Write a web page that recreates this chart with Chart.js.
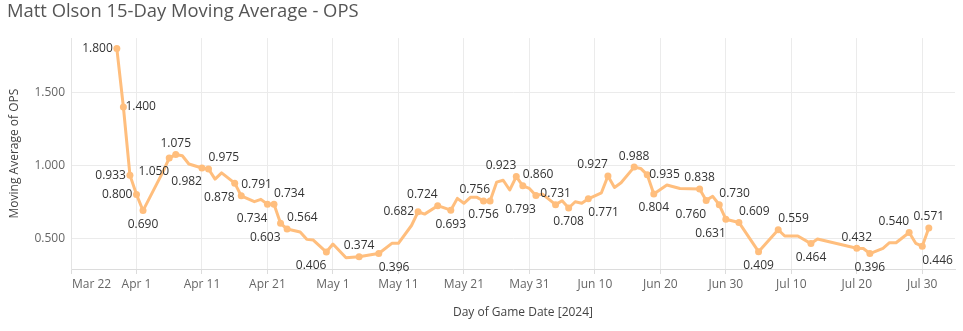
<!DOCTYPE html>
<html>
<head>
<meta charset="utf-8">
<title>Matt Olson 15-Day Moving Average - OPS</title>
<script src="https://cdn.jsdelivr.net/npm/chart.js@4.4.1/dist/chart.umd.min.js"></script>
<style>
  html, body { margin: 0; padding: 0; background: #fff; }
  #wrap { width: 963px; height: 331px; }
</style>
</head>
<body>
<div id="wrap"><canvas id="opsChart" width="963" height="331"></canvas></div>
<script>
// game days, counted from Mar 22 2024 (day 0)
const gameDays = [
  7, 8, 9, 10, 11, 14, 15, 16, 17, 18, 20, 21, 22, 23, 25, 26, 28, 29, 30, 31,
  32, 33, 35, 36, 37, 39, 40, 42, 44, 46, 47, 49, 50, 52, 53, 54, 56, 58, 59, 60,
  61, 62, 63, 64, 65, 66, 67, 68, 69, 70, 71, 72, 74, 75, 76, 77, 78, 79, 81, 82,
  83, 84, 86, 87, 88, 89, 91, 93, 96, 97, 98, 99, 100, 102, 105, 108, 109, 111, 113, 114,
  120, 121, 122, 124, 125, 126, 128, 129, 130, 131
];

// 15-day moving average of OPS
const opsAvg = [
  1.800, 1.400, 0.933, 0.800, 0.690, 0.952, 1.050, 1.075, 1.066, 1.009, 0.982, 0.975, 0.906, 0.949, 0.878, 0.791, 0.751, 0.767, 0.734, 0.734,
  0.603, 0.564, 0.543, 0.493, 0.488, 0.406, 0.461, 0.367, 0.374, 0.389, 0.396, 0.466, 0.466, 0.588, 0.682, 0.666, 0.724, 0.693, 0.774, 0.740,
  0.781, 0.781, 0.756, 0.756, 0.885, 0.898, 0.831, 0.923, 0.860, 0.842, 0.793, 0.803, 0.731, 0.758, 0.708, 0.751, 0.740, 0.771, 0.812, 0.927,
  0.849, 0.881, 0.988, 0.979, 0.935, 0.804, 0.865, 0.842, 0.838, 0.760, 0.788, 0.730, 0.631, 0.609, 0.409, 0.559, 0.516, 0.516, 0.464, 0.495,
  0.432, 0.430, 0.396, 0.432, 0.470, 0.470, 0.540, 0.466, 0.446, 0.571
];

// where each value label sits next to its point ('' = no label)
const labelSide = [
  'l', 'r', 'l', 'l', 'b', '', 'bl', 't', '', '', 'bl', 'tr', '', '', 'bl', 'tr', '', '', 'bl', 'tr',
  'bl', 'tr', '', '', '', 'bl', '', '', 't', '', 'br', '', '', '', 'l', '', 'tl', 'b', '', '',
  '', '', 'b', 'tl', '', '', '', 'tl', 'tr', '', 'bl', '', 't', '', 'b', '', '', 'br', '', 'tl',
  '', '', 't', '', 'r', 'b', '', '', 't', 'bl', '', 'tr', 'bl', 'tr', 'b', 'tr', '', '', 'b', '',
  't', '', 'b', '', '', '', 'tl', '', 'br', 't'
];

const xTickDays   = [0, 10, 20, 30, 40, 50, 60, 70, 80, 90, 100, 110, 120, 130];
const xTickLabels = ['Mar 22', 'Apr 1', 'Apr 11', 'Apr 21', 'May 1', 'May 11', 'May 21',
                     'May 31', 'Jun 10', 'Jun 20', 'Jun 30', 'Jul 10', 'Jul 20', 'Jul 30'];
const yTicks = [0.5, 1.0, 1.5];
const xTitle = 'Day of Game Date [2024]';

const FONT = '"Open Sans", "Noto Sans", sans-serif';
const LINE = '#FFBE7D';
const GRID = '#ebebeb';

// value labels beside the marked points
const pointLabels = {
  id: 'pointLabels',
  afterDatasetsDraw(chart){
    const ctx = chart.ctx;
    const pts = chart.getDatasetMeta(0).data;
    ctx.save();
    ctx.font = '12px ' + FONT;
    ctx.fillStyle = '#333';
    ctx.textBaseline = 'middle';
    pts.forEach((p, i)=>{
      const side = labelSide[i];
      if(!side) return;
      let x = p.x, y = p.y, align = 'center';
      if(side.includes('t')) y -= 11;
      if(side.includes('b')) y += 14;
      if(side === 'l'){ align = 'right'; x -= 4; }
      else if(side === 'r'){ align = 'left'; x += 2; }
      else if(side.length === 2 && side[1] === 'l'){ align = 'right'; }
      else if(side.length === 2 && side[1] === 'r'){ align = 'left'; }
      ctx.textAlign = align;
      ctx.fillText(opsAvg[i].toFixed(3), x, y);
    });
    ctx.restore();
  }
};

// first date label starts at the axis edge; axis title sits a bit right of centre
const xAxisText = {
  id: 'xAxisText',
  afterDraw(chart){
    const xs = chart.scales.x;
    const ctx = chart.ctx;
    ctx.save();
    ctx.font = '12px ' + FONT;
    ctx.textBaseline = 'middle';
    ctx.fillStyle = '#666';
    ctx.textAlign = 'left';
    ctx.fillText(xTickLabels[0], xs.left + 1, xs.top + 16);
    ctx.fillStyle = '#444';
    ctx.textAlign = 'center';
    ctx.fillText(xTitle, (xs.left + xs.right) / 2 + 10, xs.top + 44);
    ctx.restore();
  }
};

new Chart(document.getElementById('opsChart'), {
  type: 'line',
  data: {
    datasets: [{
      label: 'Moving Average of OPS',
      data: gameDays.map((d, i)=>({x: d, y: opsAvg[i]})),
      borderColor: LINE,
      backgroundColor: LINE,
      borderWidth: 3,
      borderJoinStyle: 'round',
      borderCapStyle: 'round',
      tension: 0,
      pointRadius: labelSide.map(s=>s ? 3.5 : 0),
      pointHoverRadius: 0,
      pointBorderWidth: 0,
      pointBackgroundColor: LINE
    }]
  },
  options: {
    responsive: false,
    animation: false,
    layout: { padding: { left: 7, right: 8, top: 0, bottom: 0 } },
    plugins: {
      legend: { display: false },
      tooltip: { enabled: false },
      title: {
        display: true,
        text: 'Matt Olson 15-Day Moving Average - OPS',
        align: 'start',
        color: '#555',
        font: { family: FONT, size: 18.4, weight: 'normal' },
        padding: { top: 1, bottom: 15 }
      }
    },
    scales: {
      x: {
        type: 'linear',
        min: 0, max: 135,
        afterBuildTicks: s=>{ s.ticks = xTickDays.map(v=>({value: v})); },
        afterFit: s=>{ s.height = 62; },
        ticks: {
          color: '#666',
          font: { family: FONT, size: 12 },
          padding: 3,
          maxRotation: 0,
          autoSkip: false,
          callback: (v, i)=> i === 0 ? '' : xTickLabels[i]
        },
        grid: { color: GRID, tickLength: 5, tickColor: '#dcdcdc' },
        border: { color: '#dcdcdc' }
      },
      y: {
        min: 0.29, max: 1.872,
        afterBuildTicks: s=>{ s.ticks = yTicks.map(v=>({value: v})); },
        afterFit: s=>{ s.width = 64; },
        ticks: {
          color: '#666',
          font: { family: FONT, size: 12 },
          padding: 6,
          callback: v=>Number(v).toFixed(3)
        },
        grid: { color: GRID, drawTicks: false },
        border: { color: '#e4e4e4' },
        title: {
          display: true,
          text: 'Moving Average of OPS',
          color: '#444',
          font: { family: FONT, size: 12 },
          padding: { top: 0, bottom: 4 }
        }
      }
    }
  },
  plugins: [pointLabels, xAxisText]
});
</script>
</body>
</html>
